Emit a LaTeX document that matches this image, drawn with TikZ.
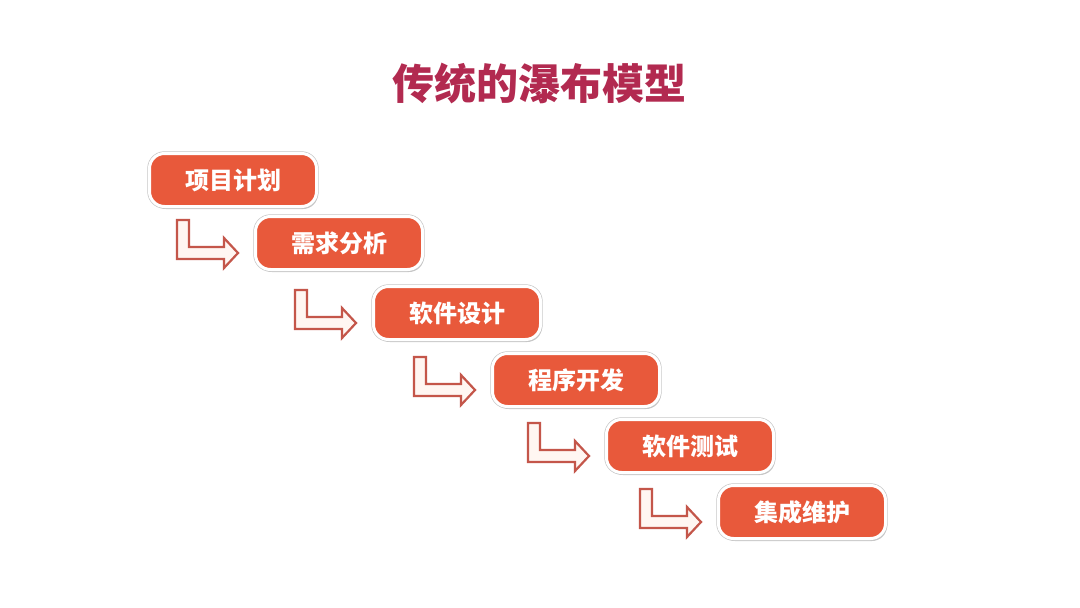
\documentclass[tikz,border=0pt]{standalone}
\usepackage{fontspec}
\setmainfont{Noto Sans CJK SC}
\usetikzlibrary{shadows,calc}
\definecolor{boxfill}{HTML}{E8593B}
\definecolor{titlecol}{HTML}{B22A50}
\definecolor{arrowline}{HTML}{C4564A}
\definecolor{arrowfill}{HTML}{FFF6F2}
\tikzset{
  stagebox/.style={rounded corners=15pt,
    drop shadow={shadow xshift=1.5pt, shadow yshift=-2.5pt, opacity=0.22, fill=black},
    preaction={draw=black!22, line width=4.4pt},
    draw=white, line width=3pt, fill=boxfill,
    minimum width=167pt, minimum height=53pt, inner sep=0pt,
    text=white, font=\fontsize{24}{28}\selectfont\bfseries},
  bentarrow/.pic={
    \draw[draw=arrowline, line width=2.2pt, fill=arrowfill, line join=miter]
      (0,0) -- (12,0) -- (12,27) -- (47,27) -- (47,18) -- (61,33) -- (47,48) -- (47,39) -- (0,39) -- cycle;
  }
}
\begin{document}
\begin{tikzpicture}[x=1pt,y=-1pt]
\useasboundingbox[fill=white] (0,0) rectangle (1080,608);
\node[text=titlecol, font=\fontsize{42}{50}\selectfont\bfseries] (title) at (539,83) {传统的瀑布模型};
\node[stagebox] (b1) at (233,180) {项目计划};
\node[stagebox] (b2) at (339,243) {需求分析};
\node[stagebox] (b3) at (457,313) {软件设计};
\node[stagebox] (b4) at (576,380) {程序开发};
\node[stagebox] (b5) at (690,446) {软件测试};
\node[stagebox] (b6) at (802,512) {集成维护};
\foreach \n in {b2,b3,b4,b5,b6}{
  \pic at ($(\n.north west)+(-77,5)$) {bentarrow};
}
\end{tikzpicture}
\end{document}
